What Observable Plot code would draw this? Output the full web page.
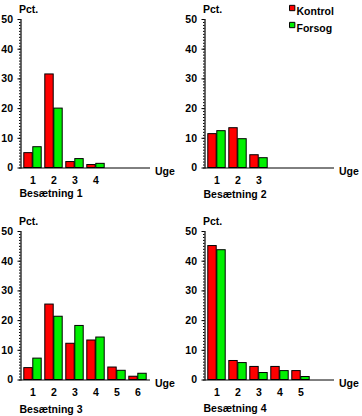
<!DOCTYPE html>
<html><head><meta charset="utf-8">
<script src="https://cdn.jsdelivr.net/npm/d3@7"></script>
<script src="https://cdn.jsdelivr.net/npm/@observablehq/plot@0.6"></script>
<style>
html,body{margin:0;padding:0;background:#fff;overflow:hidden;width:362px;height:416px}
#wrap{position:relative;width:362px;height:416px}
#wrap svg{position:absolute}
</style></head>
<body><div id="wrap"></div>
<script>
const weekDomain = [1, 2, 3, 4, 5, 6];
const yTicks = [0, 10, 20, 30, 40, 50];
const minorTicks = d3.range(0, 51, 1);
const seriesNames = ["Kontrol", "Forsog"];

const weeks1 = [1, 2, 3, 4];
const kontrol1 = [5, 31.5, 2, 1];
const forsog1 = [7, 20, 3, 1.4];

const weeks2 = [1, 2, 3];
const kontrol2 = [11.4, 13.4, 4.3];
const forsog2 = [12.4, 9.7, 3.3];

const weeks3 = [1, 2, 3, 4, 5, 6];
const kontrol3 = [4, 25.4, 12.2, 13.3, 4.2, 1.1];
const forsog3 = [7.2, 21.3, 18.2, 14.3, 3.1, 2.1];

const weeks4 = [1, 2, 3, 4, 5];
const kontrol4 = [45.1, 6.4, 4.4, 4.4, 3.0];
const forsog4 = [43.7, 5.7, 2.35, 3.0, 1.0];

const titles = ["Besætning 1", "Besætning 2", "Besætning 3", "Besætning 4"];

const RED = "#ff0000", GREEN = "#00f000";

function panel(weeks, kontrol, forsog, title, left, top, width, titleDy, legend) {
  const data = weeks.map((w, i) => ({week: w, kontrol: kontrol[i], forsog: forsog[i]}));
  const marks = [
    Plot.barY(data, {x: "week", y: "kontrol", fill: RED, stroke: "black", strokeWidth: 1, insetLeft: 1.8, insetRight: 10.8}),
    Plot.barY(data, {x: "week", y: "forsog", fill: GREEN, stroke: "black", strokeWidth: 1, insetLeft: 10.8, insetRight: 1.8}),
    Plot.ruleY([0], {stroke: "black", strokeWidth: 1}),
    Plot.frame({anchor: "left", stroke: "black", strokeWidth: 1.2}),
    Plot.axisY(minorTicks, {tickSize: 1.5, tickFormat: () => "", label: null}),
    Plot.axisY(yTicks, {tickSize: 3, tickPadding: 5, label: null}),
    Plot.axisX(weeks, {tickSize: 0, tickPadding: 9, label: null}),
    Plot.text(["Pct."], {text: d => d, frameAnchor: "top-left", textAnchor: "start", lineAnchor: "middle", dx: -2, dy: -10}),
    Plot.text(["Uge"], {text: d => d, frameAnchor: "bottom-right", textAnchor: "start", lineAnchor: "middle", dx: 4.5, dy: 4}),
    Plot.text([title], {text: d => d, frameAnchor: "bottom-left", textAnchor: "start", lineAnchor: "middle", dx: -1.5, dy: titleDy})
  ];
  if (legend) {
    marks.push(
      Plot.dot([seriesNames[0]], {frameAnchor: "top-left", symbol: "square", r: 3, fill: RED, stroke: "black", strokeWidth: 1, dx: 87.2, dy: -11.5}),
      Plot.dot([seriesNames[1]], {frameAnchor: "top-left", symbol: "square", r: 3, fill: GREEN, stroke: "black", strokeWidth: 1, dx: 87.2, dy: 5.5}),
      Plot.text([seriesNames[0]], {text: d => d, frameAnchor: "top-left", textAnchor: "start", lineAnchor: "middle", dx: 91.5, dy: -7.5}),
      Plot.text([seriesNames[1]], {text: d => d, frameAnchor: "top-left", textAnchor: "start", lineAnchor: "middle", dx: 91.5, dy: 9.5})
    );
  }
  const svg = Plot.plot({
    width, height: 205,
    marginLeft: 20.5, marginRight: width - 150, marginTop: 19, marginBottom: 37.5,
    x: {type: "band", domain: weekDomain, padding: 0, axis: null},
    y: {domain: [0, 50], axis: null},
    style: {fontFamily: "'Liberation Sans', Arial, sans-serif", fontSize: "10.5px", fontWeight: "bold", color: "black", background: "transparent", overflow: "visible"},
    marks
  });
  svg.style.left = left + "px";
  svg.style.top = top + "px";
  document.getElementById("wrap").appendChild(svg);
}

panel(weeks1, kontrol1, forsog1, titles[0], 0, 0, 181, 25.5, false);
panel(weeks2, kontrol2, forsog2, titles[1], 184, 0, 178, 26.5, true);
panel(weeks3, kontrol3, forsog3, titles[2], 0, 211.5, 181, 30, false);
panel(weeks4, kontrol4, forsog4, titles[3], 184, 211.5, 178, 29, false);
</script>
</body></html>
